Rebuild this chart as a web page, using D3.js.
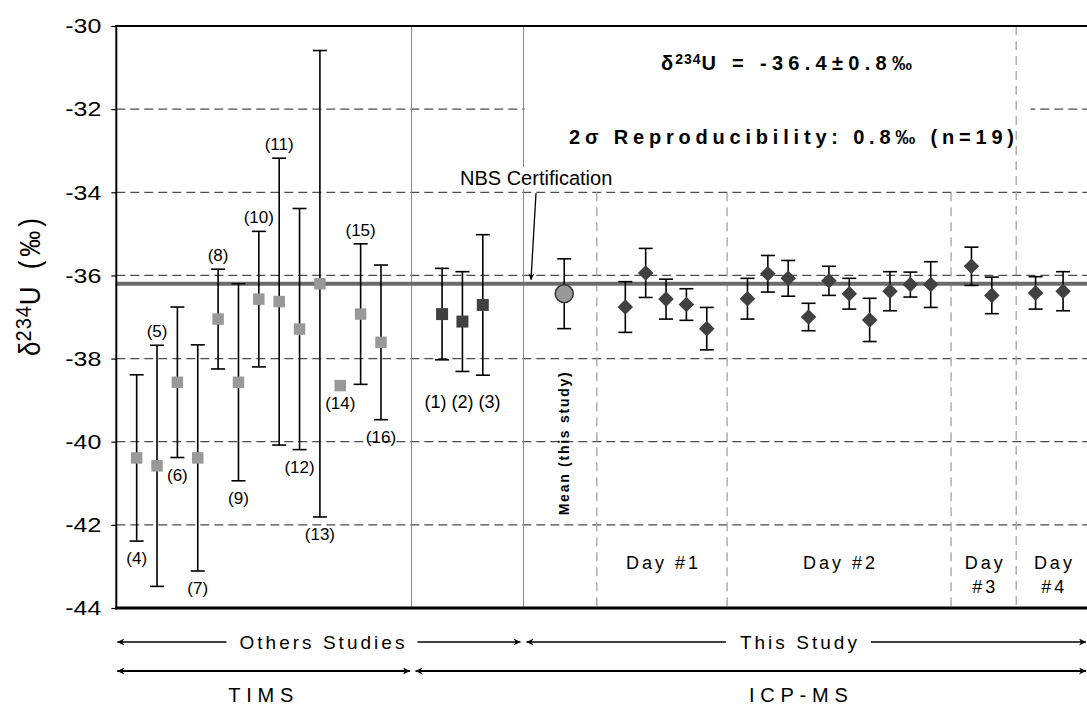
<!DOCTYPE html>
<html><head><meta charset="utf-8">
<script src="https://cdn.jsdelivr.net/npm/d3@7"></script>
<style>
body{margin:0;background:#fff}
svg{display:block;font-family:"Liberation Sans",Arial,Helvetica,sans-serif}
</style>
</head><body>
<svg id="chart" width="1087" height="707"></svg>
<script>
// ---------- data ----------
const yTicks = [-30, -32, -34, -36, -38, -40, -42, -44];
const gridValues = [-32, -34, -36, -38, -40, -42];

// TIMS (other studies)
const timsLabels = ["(4)","(5)","(6)","(7)","(8)","(9)","(10)","(11)","(12)","(13)","(14)","(15)","(16)"];
const timsX = [1,2,3,4,5,6,7,8,9,10,11,12,13];
const timsValues = [-40.39,-40.58,-38.57,-40.39,-37.05,-38.57,-36.57,-36.63,-37.29,-36.20,-38.65,-36.93,-37.61];
const timsErrors = [2.00,2.90,1.81,2.72,1.20,2.37,1.63,3.45,2.90,5.61,0,1.69,1.86];
const timsLabelSide = ["below","above","below","below","above","below","above","above","below","below","below","above","below"];

// ICP-MS (other studies)
const icpOtherLabels = ["(1)","(2)","(3)"];
const icpOtherX = [16,17,18];
const icpOtherValues = [-36.93,-37.11,-36.71];
const icpOtherErrors = [1.10,1.20,1.69];

// Mean of this study
const meanX = [22];
const meanValues = [-36.44];
const meanErrors = [0.84];

// This study, ICP-MS runs (n = 19)
const studyX = [25,26,27,28,29, 31,32,33,34,35,36,37,38,39,40, 42,43, 45.15,46.5];
const studyValues = [-36.76,-35.94,-36.57,-36.70,-37.28, -36.56,-35.96,-36.07,-37.00,-36.13,-36.44,-37.07,-36.38,-36.22,-36.22, -35.78,-36.48, -36.42,-36.38];
const studyErrors = [0.61,0.59,0.48,0.38,0.51, 0.49,0.44,0.43,0.33,0.35,0.37,0.52,0.47,0.30,0.55, 0.46,0.44, 0.39,0.47];

const nbsValue = -36.2;
const groupBounds = [14.5, 20];
const dayBounds = [23.6, 30, 41, 44.2];
const dayLabels = [["Day #1"],["Day #2"],["Day","#3"],["Day","#4"]];
const dayLabelX = [26.8, 35.5, 42.6, 46.0];

// ---------- scales ----------
const svg = d3.select("#chart");
const x = d3.scaleLinear().domain([0, 47.7]).range([116.3, 1087.5]);
const y = d3.scaleLinear().domain([-44, -30]).range([608, 26]);
const X0 = x(0), XR = 1087, YT = y(-30), YB = y(-44);

// ---------- defs ----------
const defs = svg.append("defs");
defs.append("marker").attr("id","ah").attr("viewBox","0 0 10 10")
  .attr("refX",10).attr("refY",5).attr("markerWidth",10).attr("markerHeight",7)
  .attr("markerUnits","userSpaceOnUse").attr("orient","auto-start-reverse")
  .append("path").attr("d","M0,0 L10,5 L0,10 L3,5 z").attr("fill","#000");
defs.append("marker").attr("id","ah2").attr("viewBox","0 0 10 10")
  .attr("refX",10).attr("refY",5).attr("markerWidth",8).attr("markerHeight",6)
  .attr("markerUnits","userSpaceOnUse").attr("orient","auto")
  .append("path").attr("d","M0,0 L10,5 L0,10 L3,5 z").attr("fill","#000");

// ---------- grid ----------
svg.append("g").selectAll("line").data(gridValues).join("line")
  .attr("x1", X0).attr("x2", XR).attr("y1", d => y(d)).attr("y2", d => y(d))
  .attr("stroke", "#4d4d4d").attr("stroke-width", 1.2).attr("stroke-dasharray", "9,5");

svg.append("g").selectAll("line").data(groupBounds).join("line")
  .attr("x1", d => x(d)).attr("x2", d => x(d)).attr("y1", YT).attr("y2", YB)
  .attr("stroke", "#888").attr("stroke-width", 1);

// annotation box (hides -32 gridline)
svg.append("rect").attr("x", x(20) + 1).attr("y", YT + 1)
  .attr("width", x(44.9) - x(20) - 1).attr("height", y(-33.75) - YT - 1)
  .attr("fill", "#fff");

svg.append("g").selectAll("line").data(dayBounds).join("line")
  .attr("x1", d => x(d)).attr("x2", d => x(d))
  .attr("y1", (d, i) => i === dayBounds.length - 1 ? YT : y(-34)).attr("y2", YB)
  .attr("stroke", "#aaa").attr("stroke-width", 1.4).attr("stroke-dasharray", "9,6");

// NBS certification line
svg.append("line").attr("x1", X0).attr("x2", XR).attr("y1", y(nbsValue)).attr("y2", y(nbsValue))
  .attr("stroke", "#6b6b6b").attr("stroke-width", 4);

// ---------- axes ----------
const yAxis = d3.axisLeft(y).tickValues(yTicks).tickSize(5).tickPadding(10).tickFormat(d => String(d));
const ga = svg.append("g").attr("transform", `translate(${X0},0)`).call(yAxis);
ga.select(".domain").remove();
ga.selectAll(".tick line").attr("stroke", "#000").attr("stroke-width", 1.2);
ga.selectAll(".tick text").attr("fill", "#000").style("font-size", "21px")
  .style("font-family", '"Liberation Sans",Arial,sans-serif')
  .attr("textLength", 36).attr("lengthAdjust", "spacingAndGlyphs");

svg.append("line").attr("x1", X0).attr("x2", X0).attr("y1", YT - 1).attr("y2", YB + 1.5)
  .attr("stroke", "#000").attr("stroke-width", 2);
svg.append("line").attr("x1", X0 - 1).attr("x2", XR).attr("y1", YT).attr("y2", YT)
  .attr("stroke", "#000").attr("stroke-width", 2);
svg.append("line").attr("x1", X0 - 1).attr("x2", XR).attr("y1", YB).attr("y2", YB)
  .attr("stroke", "#000").attr("stroke-width", 3);

// y label
const yl = svg.append("text").attr("transform", "translate(40,287) scale(1.12,1) rotate(-90)")
  .attr("text-anchor", "middle").style("font-size", "26px");
yl.append("tspan").text("δ");
yl.append("tspan").attr("dy", -8).style("font-size", "20px").style("letter-spacing", "1px").text("234");
yl.append("tspan").attr("dy", 8).text("U");
yl.append("tspan").attr("dx", 17).text("(");
yl.append("tspan").attr("dx", 4).text("‰");
yl.append("tspan").attr("dx", 4).text(")");

// ---------- error bars helper ----------
function errorBars(g, xs, vs, es) {
  const data = xs.map((d, i) => ({ x: d, v: vs[i], e: es[i] })).filter(d => d.e > 0);
  const eg = g.append("g").attr("stroke", "#000").attr("stroke-width", 1.6).attr("fill", "none");
  eg.selectAll(".v").data(data).join("line")
    .attr("x1", d => x(d.x)).attr("x2", d => x(d.x))
    .attr("y1", d => y(d.v + d.e)).attr("y2", d => y(d.v - d.e));
  eg.selectAll(".t").data(data).join("line")
    .attr("x1", d => x(d.x) - 7).attr("x2", d => x(d.x) + 7)
    .attr("y1", d => y(d.v + d.e)).attr("y2", d => y(d.v + d.e));
  eg.selectAll(".b").data(data).join("line")
    .attr("x1", d => x(d.x) - 7).attr("x2", d => x(d.x) + 7)
    .attr("y1", d => y(d.v - d.e)).attr("y2", d => y(d.v - d.e));
}

const marks = svg.append("g");

// TIMS
errorBars(marks, timsX, timsValues, timsErrors);
marks.append("g").selectAll("path").data(timsX).join("path")
  .attr("d", d3.symbol(d3.symbolSquare, 132))
  .attr("transform", (d, i) => `translate(${x(d)},${y(timsValues[i])})`)
  .attr("fill", "#999");
marks.append("g").selectAll("text").data(timsLabels).join("text")
  .attr("x", (d, i) => x(timsX[i]))
  .attr("y", (d, i) => timsLabelSide[i] === "above"
      ? y(timsValues[i] + timsErrors[i]) - 8
      : y(timsValues[i] - timsErrors[i]) + 23)
  .attr("text-anchor", "middle").style("font-size", "17px").text(d => d);

// ICP-MS others
errorBars(marks, icpOtherX, icpOtherValues, icpOtherErrors);
marks.append("g").selectAll("path").data(icpOtherX).join("path")
  .attr("d", d3.symbol(d3.symbolSquare, 144))
  .attr("transform", (d, i) => `translate(${x(d)},${y(icpOtherValues[i])})`)
  .attr("fill", "#404040");
marks.append("text").attr("x", x(d3.mean(icpOtherX))).attr("y", y(-39.2))
  .attr("text-anchor", "middle").style("font-size", "18px").text(icpOtherLabels.join(" "));

// Mean
errorBars(marks, meanX, meanValues, meanErrors);
marks.append("g").selectAll("circle").data(meanX).join("circle")
  .attr("cx", d => x(d)).attr("cy", (d, i) => y(meanValues[i])).attr("r", 9)
  .attr("fill", "#999").attr("stroke", "#333").attr("stroke-width", 1.5);
svg.append("text").attr("transform", `translate(${x(meanX[0]) + 5},${y(-40.05)}) rotate(-90)`)
  .attr("text-anchor", "middle").style("font-size", "14px").style("font-weight", "bold")
  .attr("textLength", 143).attr("lengthAdjust", "spacing").text("Mean (this study)");

// This study
errorBars(marks, studyX, studyValues, studyErrors);
marks.append("g").selectAll("path").data(studyX).join("path")
  .attr("d", d3.symbol(d3.symbolSquare, 121))
  .attr("transform", (d, i) => `translate(${x(d)},${y(studyValues[i])}) rotate(45)`)
  .attr("fill", "#404040");

// Day labels
dayLabels.forEach((lines, i) => {
  lines.forEach((t, j) => {
    svg.append("text").attr("x", x(dayLabelX[i]) + 1.5).attr("y", 569 + j * 24)
      .attr("text-anchor", "middle").style("font-size", "18px").style("letter-spacing", "3px")
      .text(t);
  });
});

// NBS Certification annotation
svg.append("rect").attr("x", 457).attr("y", 167).attr("width", 164).attr("height", 22).attr("fill", "#fff");
svg.append("text").attr("x", 460).attr("y", 185).style("font-size", "20px").text("NBS Certification");
svg.append("line").attr("x1", 536).attr("y1", 193).attr("x2", 531).attr("y2", y(nbsValue) - 4)
  .attr("stroke", "#000").attr("stroke-width", 1.3).attr("marker-end", "url(#ah2)");

// Summary text
const t1 = svg.append("text").attr("x", 661).attr("y", 70).style("font-size", "20px")
  .style("font-weight", "bold");
t1.append("tspan").style("letter-spacing", "2px").text("δ");
t1.append("tspan").attr("dy", -6).style("font-size", "14px").style("letter-spacing", "1px").text("234");
t1.append("tspan").attr("dy", 6).style("letter-spacing", "5.3px").text("U = -36.4±0.8‰");
svg.append("text").attr("x", 569).attr("y", 144).style("font-size", "20px")
  .style("font-weight", "bold").style("letter-spacing", "4.8px")
  .text("2σ Reproducibility: 0.8‰ (n=19)");

// ---------- bottom brackets ----------
function labeledArrow(x1, x2, yy, label, cx, len, fs, gap) {
  svg.append("text").attr("x", cx).attr("y", yy + 7).attr("text-anchor", "middle")
    .style("font-size", fs + "px").attr("textLength", len).attr("lengthAdjust", "spacing").text(label);
  svg.append("line").attr("x1", cx - len / 2 - gap).attr("x2", x1).attr("y1", yy).attr("y2", yy)
    .attr("stroke", "#000").attr("stroke-width", 1.5).attr("marker-end", "url(#ah)");
  svg.append("line").attr("x1", cx + len / 2 + gap).attr("x2", x2).attr("y1", yy).attr("y2", yy)
    .attr("stroke", "#000").attr("stroke-width", 1.5).attr("marker-end", "url(#ah)");
}
labeledArrow(X0 + 1, x(20) - 3, 642, "Others Studies", x(10.1), 165, 19, 13);
labeledArrow(x(20) + 3, 1086, 642, "This Study", x(33.5), 117, 19, 14);

function doubleArrow(x1, x2, yy) {
  svg.append("line").attr("x1", x1).attr("x2", x2).attr("y1", yy).attr("y2", yy)
    .attr("stroke", "#000").attr("stroke-width", 1.8)
    .attr("marker-start", "url(#ah)").attr("marker-end", "url(#ah)");
}
doubleArrow(X0 + 1, x(14.5) - 1.5, 671);
doubleArrow(x(14.5) + 4, 1086, 671);
svg.append("text").attr("x", x(7.1)).attr("y", 702).attr("text-anchor", "middle")
  .style("font-size", "20px").attr("textLength", 65).attr("lengthAdjust", "spacing").text("TIMS");
svg.append("text").attr("x", x(33.5)).attr("y", 702).attr("text-anchor", "middle")
  .style("font-size", "20px").attr("textLength", 99).attr("lengthAdjust", "spacing").text("ICP-MS");
</script>
</body></html>
